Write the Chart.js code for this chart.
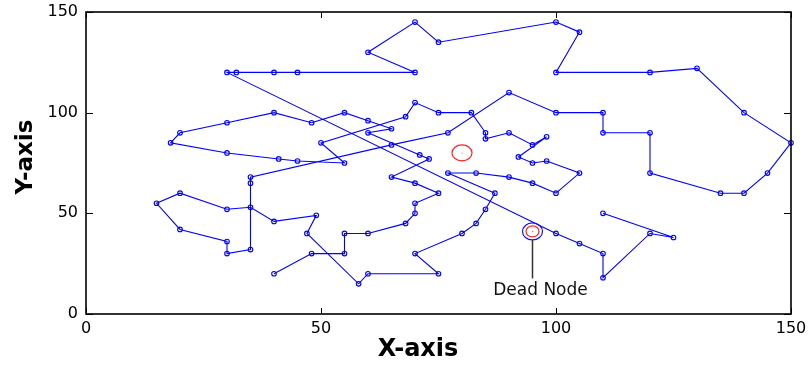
<!DOCTYPE html>
<html>
<head>
<meta charset="utf-8">
<script src="https://cdn.jsdelivr.net/npm/chart.js@4/dist/chart.umd.min.js"></script>
<style>
  html, body { margin: 0; padding: 0; background: #fff; }
  #wrap { width: 810px; height: 367px; }
</style>
</head>
<body>
<div id="wrap"><canvas id="c" width="810" height="367"></canvas></div>
<script>
// Axis ticks and titles
const xTicks = [0, 50, 100, 150];
const yTicks = [0, 50, 100, 150];
const xTitle = 'X-axis';
const yTitle = 'Y-axis';

// Route through the sensor nodes, in visiting order
const routeX = [40, 48, 55, 55, 60, 68, 70, 70, 75, 70, 65, 73, 71, 60, 65, 60, 55, 48, 40, 30,
                20, 18, 30, 41, 45, 55, 50, 68, 70, 75, 82, 85, 85, 90, 95, 98, 92, 95, 98, 105,
                100, 95, 90, 83, 77, 87, 85, 83, 80, 70, 75, 60, 58, 47, 49, 40, 35, 30, 20, 15,
                20, 30, 30, 35, 35, 35, 65, 77, 90, 100, 110, 110, 120, 120, 135, 140, 145, 150, 140, 130,
                120, 100, 105, 100, 75, 70, 60, 70, 45, 40, 32, 30, 100, 105, 110, 110, 120, 125, 110];
const routeY = [20, 30, 30, 40, 40, 45, 50, 55, 60, 65, 68, 77, 79, 90, 92, 96, 100, 95, 100, 95,
                90, 85, 80, 77, 76, 75, 85, 98, 105, 100, 100, 90, 87, 90, 84, 88, 78, 75, 76, 70,
                60, 65, 68, 70, 70, 60, 52, 45, 40, 30, 20, 20, 15, 40, 49, 46, 53, 52, 60, 55,
                42, 36, 30, 32, 65, 68, 84, 90, 110, 100, 100, 90, 90, 70, 60, 60, 70, 85, 100, 122,
                120, 120, 140, 145, 135, 145, 130, 120, 120, 120, 120, 120, 40, 35, 30, 18, 40, 38, 50];

// Highlighted nodes
const sinkNode = [80, 80];
const deadNode = [95, 41];
const deadLabel = 'Dead Node';

const routeData = routeX.map((x, i) => ({ x: x, y: routeY[i] }));

// Boxed axes with inward tick marks on all four sides, plus axis titles
const frame = {
  id: 'frame',
  afterDatasetsDraw(chart) {
    const { ctx, chartArea: a, scales: { x, y } } = chart;
    ctx.save();
    ctx.strokeStyle = '#000';
    ctx.lineWidth = 1;
    xTicks.forEach(v => {
      const px = Math.round(x.getPixelForValue(v)) + 0.5;
      ctx.beginPath();
      ctx.moveTo(px, a.bottom); ctx.lineTo(px, a.bottom - 6);
      ctx.moveTo(px, a.top); ctx.lineTo(px, a.top + 6);
      ctx.stroke();
    });
    yTicks.forEach(v => {
      const py = Math.round(y.getPixelForValue(v)) + 0.5;
      ctx.beginPath();
      ctx.moveTo(a.left, py); ctx.lineTo(a.left + 7, py);
      ctx.moveTo(a.right, py); ctx.lineTo(a.right - 7, py);
      ctx.stroke();
    });
    ctx.lineWidth = 1.6;
    ctx.strokeRect(a.left, a.top, a.right - a.left, a.bottom - a.top);

    ctx.fillStyle = '#000';
    ctx.textAlign = 'center';
    ctx.textBaseline = 'middle';
    ctx.font = 'bold 24px "DejaVu Sans"';
    ctx.fillText(xTitle, a.left + 332, a.bottom + 36);
    ctx.translate(26, a.top + 145);
    ctx.rotate(-Math.PI / 2);
    ctx.font = 'bold 23px "DejaVu Sans"';
    ctx.fillText(yTitle, 0, 0);
    ctx.restore();
  }
};

// Sink circle, dead-node rings and its callout
const marks = {
  id: 'marks',
  afterDraw(chart) {
    const { ctx, scales: { x, y } } = chart;
    ctx.save();
    // sink
    let cx = x.getPixelForValue(sinkNode[0]);
    let cy = y.getPixelForValue(sinkNode[1]);
    ctx.strokeStyle = '#ff2020';
    ctx.lineWidth = 1.2;
    ctx.beginPath(); ctx.ellipse(cx, cy, 10, 8, 0, 0, Math.PI * 2); ctx.stroke();
    ctx.fillStyle = '#ff9090';
    ctx.fillRect(cx - 0.5, cy - 0.5, 1.2, 1.2);

    // dead node
    cx = x.getPixelForValue(deadNode[0]);
    cy = y.getPixelForValue(deadNode[1]);
    ctx.strokeStyle = '#1010ff';
    ctx.lineWidth = 1.2;
    ctx.beginPath(); ctx.ellipse(cx, cy, 10, 8.5, 0, 0, Math.PI * 2); ctx.stroke();
    ctx.strokeStyle = '#ff2020';
    ctx.beginPath(); ctx.ellipse(cx, cy, 6.5, 5.5, 0, 0, Math.PI * 2); ctx.stroke();
    ctx.fillStyle = '#ff6060';
    ctx.fillRect(cx - 0.5, cy - 0.5, 1.2, 1.2);

    // callout line and label
    ctx.strokeStyle = '#333';
    ctx.lineWidth = 1.5;
    ctx.beginPath();
    ctx.moveTo(cx, cy + 8.5);
    ctx.lineTo(cx, cy + 47);
    ctx.stroke();
    ctx.fillStyle = '#111';
    ctx.font = '17px "DejaVu Sans"';
    ctx.textAlign = 'center';
    ctx.textBaseline = 'alphabetic';
    ctx.fillText(deadLabel, cx + 8, cy + 64);
    ctx.restore();
  }
};

new Chart(document.getElementById('c'), {
  type: 'scatter',
  data: {
    datasets: [{
      data: routeData,
      showLine: true,
      borderColor: '#0000ff',
      borderWidth: 1.1,
      pointStyle: 'circle',
      pointRadius: 2.3,
      pointBorderWidth: 1.1,
      pointBorderColor: '#0000ff',
      pointBackgroundColor: 'rgba(0,0,0,0)',
      tension: 0,
      clip: false
    }]
  },
  options: {
    responsive: false,
    devicePixelRatio: 1,
    animation: false,
    layout: { padding: { left: 0, right: 19, top: 12, bottom: 0 } },
    plugins: { legend: { display: false }, tooltip: { enabled: false } },
    scales: {
      x: {
        type: 'linear',
        min: 0, max: 150,
        afterBuildTicks: s => { s.ticks = xTicks.map(v => ({ value: v })); },
        afterFit: s => { s.height = 53; s.paddingLeft = 0; s.paddingRight = 0; },
        grid: { display: false, drawTicks: false },
        border: { display: false },
        ticks: { color: '#000', padding: 5, font: { family: 'DejaVu Sans', size: 16 } }
      },
      y: {
        type: 'linear',
        min: 0, max: 150,
        afterBuildTicks: s => { s.ticks = yTicks.map(v => ({ value: v })); },
        afterFit: s => { s.width = 86; s.paddingTop = 0; s.paddingBottom = 0; },
        grid: { display: false, drawTicks: false },
        border: { display: false },
        ticks: { color: '#000', padding: 8, font: { family: 'DejaVu Sans', size: 16 } }
      }
    }
  },
  plugins: [frame, marks]
});
</script>
</body>
</html>
